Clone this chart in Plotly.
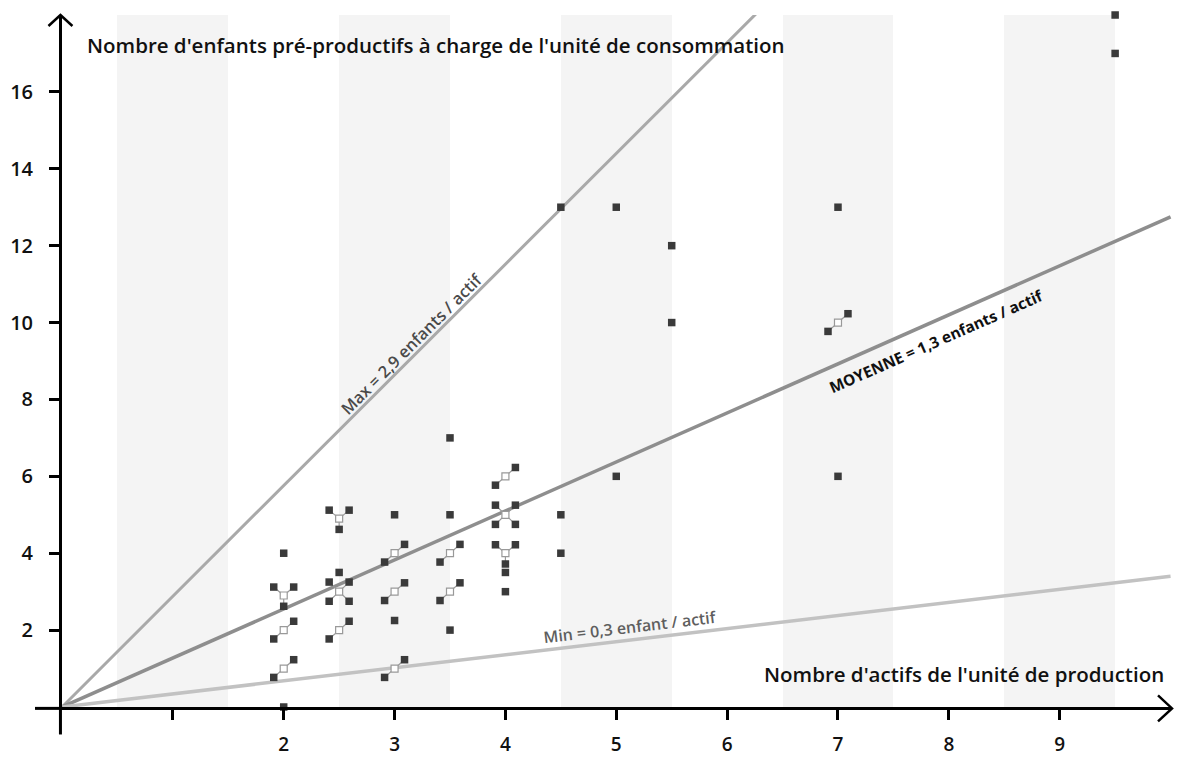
import math
import plotly.graph_objects as go

# ---------------- data ----------------
# observed units: x = nombre d'actifs, y = nombre d'enfants, n = number of units at that point
pt_x = [2, 2, 2, 2, 2,
        2.5, 2.5, 2.5, 2.5,
        3, 3, 3, 3, 3,
        3.5, 3.5, 3.5, 3.5, 3.5,
        4, 4, 4, 4, 4,
        4.5, 4.5, 4.5,
        5, 5,
        5.5, 5.5,
        7, 7, 7,
        9.5, 9.5]
pt_y = [4, 2.9, 2, 1, 0,
        4.9, 3.5, 3, 2,
        5, 4, 3, 2.25, 1,
        7, 5, 4, 3, 2,
        6, 5, 4, 3.5, 3,
        13, 5, 4,
        13, 6,
        12, 10,
        13, 10, 6,
        18, 17]
pt_n = [1, 3, 2, 2, 1,
        3, 1, 4, 2,
        1, 2, 2, 1, 2,
        1, 1, 2, 2, 1,
        2, 4, 3, 1, 1,
        1, 1, 1,
        1, 1,
        1, 1,
        1, 2, 1,
        1, 1]

# reference lines (children per worker)
line_slopes = [2.88, 1.275, 0.34]
line_labels = ["Max = 2,9 enfants / actif", "MOYENNE = 1,3 enfants / actif", "Min = 0,3 enfant / actif"]

x_ticks = [1, 2, 3, 4, 5, 6, 7, 8, 9]
x_ticktext = ["", "2", "3", "4", "5", "6", "7", "8", "9"]
y_ticks = [2, 4, 6, 8, 10, 12, 14, 16]

band_centers = [1, 3, 5, 7, 9]

title_y = "Nombre d'enfants pré-productifs à charge de l'unité de consommation"
title_x = "Nombre d'actifs de l'unité de production"

# ---------------- style ----------------
FONT = "Open Sans"
DX = 0.09
patterns = {
    2: [(-DX, -0.23), (DX, 0.23)],
    3: [(-DX, 0.22), (DX, 0.22), (0, -0.28)],
    4: [(-DX, 0.25), (DX, 0.25), (-DX, -0.25), (DX, -0.25)],
}
line_colors = ["#a9a9a9", "#8e8e8e", "#c2c2c2"]
line_widths = [3, 3.5, 3.5]
line_xend = [6.3, 10.0, 10.0]
label_pos = [3.216, 7.819, 5.136]
label_shift = [(-7, 7), (7.5, -17), (-1.4, 12.5)]
label_fonts = [dict(family=FONT, size=16.5, color="#4a4a4a", weight=600),
               dict(family=FONT, size=15.5, color="#111111", weight=700),
               dict(family=FONT, size=16, color="#5e5e5e", weight=600)]
PX_X, PX_Y = 110.86, 38.45   # px per unit (for label angles)

fig = go.Figure()

# shaded bands
fig.add_trace(go.Bar(x=band_centers, y=[18] * len(band_centers), width=1,
                     marker=dict(color="#f4f4f4", line=dict(width=0)),
                     hoverinfo="skip", showlegend=False))

# reference lines
for s, c, w, xe in zip(line_slopes, line_colors, line_widths, line_xend):
    fig.add_trace(go.Scatter(x=[0, xe], y=[0, s * xe], mode="lines",
                             line=dict(color=c, width=w), hoverinfo="skip",
                             showlegend=False))

# cluster construction
fx, fy = [], []
hx, hy = [], []
cx, cy = [], []
for x, y, n in zip(pt_x, pt_y, pt_n):
    if n == 1:
        fx.append(x); fy.append(y)
    else:
        hx.append(x); hy.append(y)
        for dx, dy in patterns[n]:
            fx.append(x + dx); fy.append(y + dy)
            cx += [x, x + dx, None]; cy += [y, y + dy, None]

fig.add_trace(go.Scatter(x=cx, y=cy, mode="lines",
                         line=dict(color="#999999", width=1.2),
                         hoverinfo="skip", showlegend=False))
fig.add_trace(go.Scatter(x=hx, y=hy, mode="markers",
                         marker=dict(symbol="square", size=7, color="white",
                                     line=dict(color="#999999", width=1.2)),
                         cliponaxis=False, showlegend=False))
fig.add_trace(go.Scatter(x=fx, y=fy, mode="markers",
                         marker=dict(symbol="square", size=7.5, color="#3a3a3a",
                                     line=dict(width=0)),
                         cliponaxis=False, showlegend=False))

# line labels
for s, lab, px, (sx, sy), f in zip(line_slopes, line_labels, label_pos, label_shift, label_fonts):
    ang = math.degrees(math.atan(s * PX_Y / PX_X))
    fig.add_annotation(x=px, y=s * px, text=lab, showarrow=False,
                       textangle=-ang, xshift=sx, yshift=sy, font=f,
                       xanchor="center", yanchor="middle")

# axis titles
fig.add_annotation(xref="paper", yref="paper", x=0.0207, y=0.957, text=title_y,
                   showarrow=False, xanchor="left", yanchor="middle",
                   font=dict(family=FONT, size=20.5, color="#111111", weight=600))
fig.add_annotation(xref="paper", yref="paper", x=0.9946, y=0.047, text=title_x,
                   showarrow=False, xanchor="right", yanchor="middle",
                   font=dict(family=FONT, size=20.5, color="#111111", weight=600))

# axis extensions and arrow heads (paper coords)
ax_line = dict(color="black", width=3)
fig.add_shape(type="line", xref="paper", yref="paper", x0=-0.0243, x1=0.001, y0=-0.002, y1=-0.002, line=ax_line)
fig.add_shape(type="line", xref="paper", yref="paper", x0=-0.0014, x1=-0.0014, y0=-0.0397, y1=0.0, line=ax_line)
fig.add_shape(type="path", xref="paper", yref="paper",
              path="M -0.0122,0.9841 L -0.0014,1.0 L 0.0094,0.9841", line=dict(color="black", width=2.5))
fig.add_shape(type="path", xref="paper", yref="paper",
              path="M 0.9874,0.0168 L 1.0,-0.002 L 0.9874,-0.0208", line=dict(color="black", width=2.5))

tickfont = dict(family=FONT, size=19, color="#111111", weight=600)
fig.update_xaxes(range=[0, 10.013], showgrid=False, zeroline=False, automargin=False,
                 showline=True, linecolor="black", linewidth=3,
                 ticks="outside", ticklen=10, tickwidth=3, tickcolor="black",
                 tickvals=x_ticks, ticktext=x_ticktext, tickfont=tickfont,
                 ticklabelstandoff=8, fixedrange=True)
fig.update_yaxes(range=[0, 18], showgrid=False, zeroline=False, automargin=False,
                 showline=True, linecolor="black", linewidth=3,
                 ticks="outside", ticklen=10, tickwidth=3, tickcolor="black",
                 tickvals=y_ticks, tickfont=dict(family=FONT, size=20, color="#111111", weight=600),
                 ticklabelstandoff=12, fixedrange=True)

fig.update_layout(width=1179, height=758,
                  margin=dict(l=62, r=7, t=15, b=51, autoexpand=False),
                  plot_bgcolor="white", paper_bgcolor="white",
                  bargap=0, showlegend=False)

fig.write_html("out.html", config={"displayModeBar": False},
               post_script="document.body.style.margin='0';document.body.style.overflow='hidden';")
